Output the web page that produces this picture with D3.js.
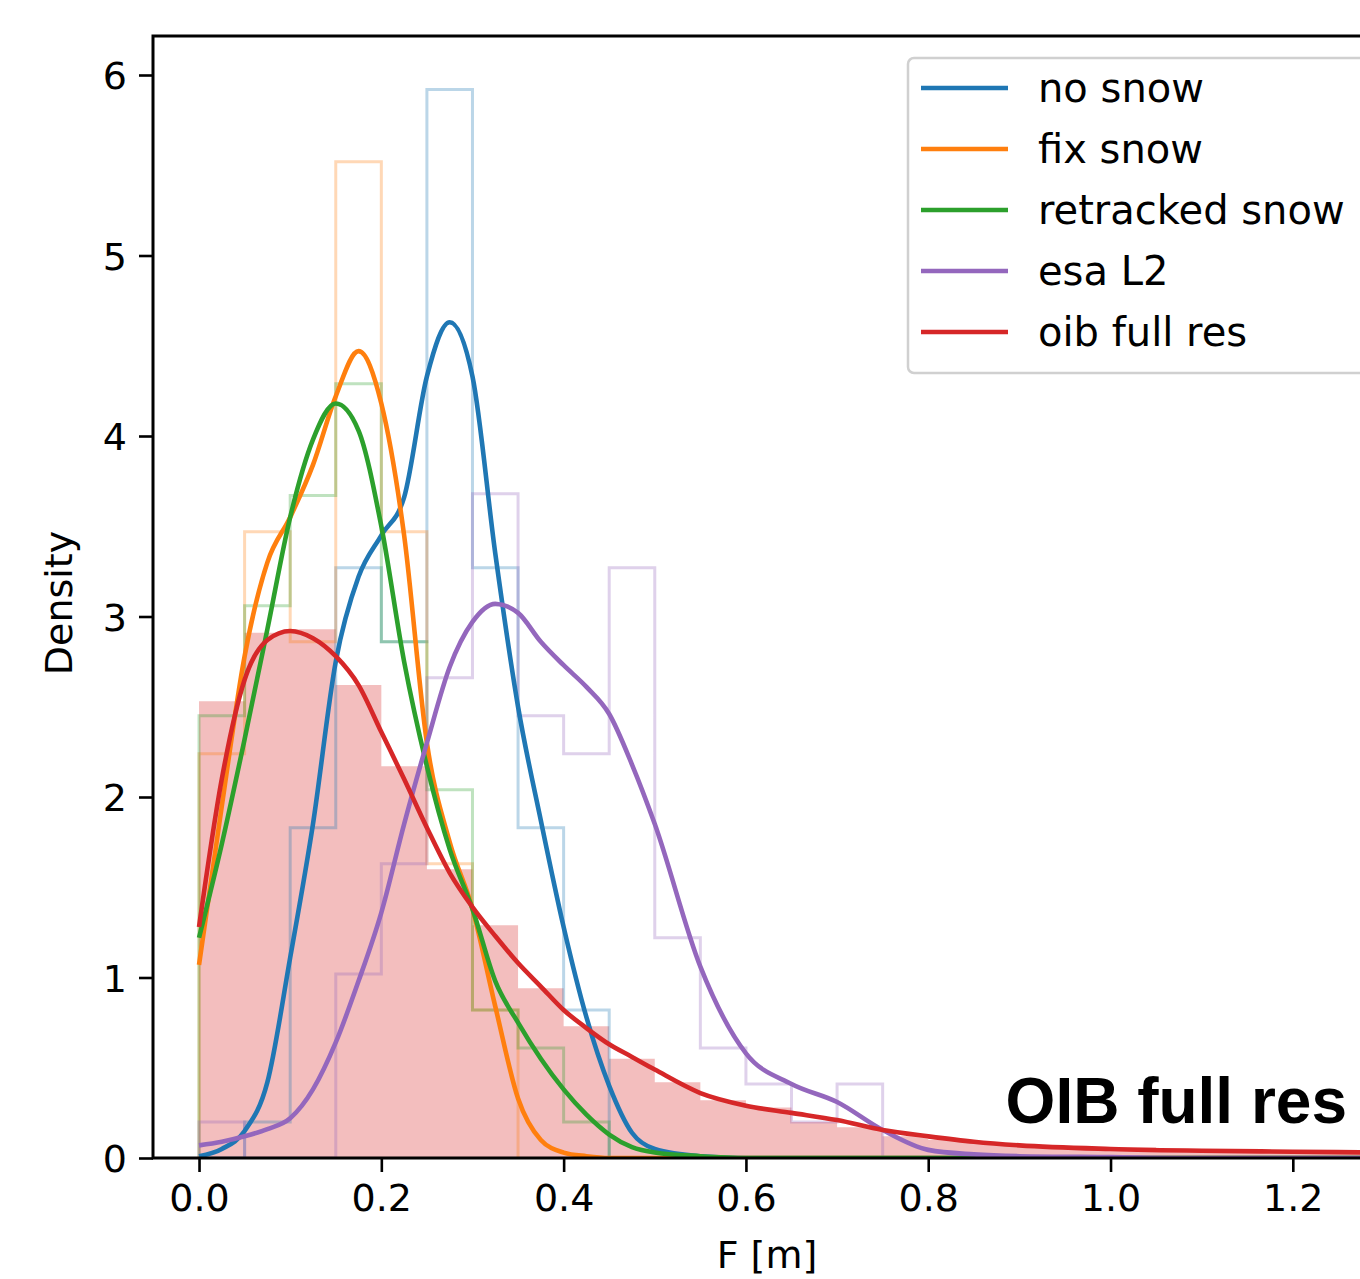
<!DOCTYPE html>
<html>
<head>
<meta charset="utf-8">
<script src="https://cdn.jsdelivr.net/npm/d3@7"></script>
<style>
  html, body { margin: 0; padding: 0; background: #fff; }
  svg { display: block; }
  text { font-family: "DejaVu Sans", sans-serif; }
</style>
</head>
<body>
<svg id="chart" width="1360" height="1279"></svg>
<script>
// Series names and colours (matplotlib tab10)
var seriesNames = ["no snow", "fix snow", "retracked snow", "esa L2", "oib full res"];
var seriesColors = ["#1f77b4", "#ff7f0e", "#2ca02c", "#9467bd", "#d62728"];

// Histogram bins start at 0, width 0.05 (density values)
var binWidth = 0.05;
var histNoSnow = [0, 0.2, 1.83, 3.27, 2.86, 5.92, 3.27, 1.83, 0.82];
var histFixSnow = [2.24, 3.47, 2.86, 5.52, 3.47, 1.63, 0.82];
var histRetracked = [2.45, 3.06, 3.67, 4.29, 2.86, 2.04, 0.82, 0.61, 0.2];
var histEsa = [0.2, 0, 0, 1.02, 1.63, 2.66, 3.68, 2.45, 2.24, 3.27, 1.22, 0.61, 0.41, 0.2, 0.41];
var histOib = [2.53, 2.91, 2.93, 2.62, 2.17, 1.6, 1.29, 0.94, 0.73, 0.55, 0.42, 0.32, 0.28, 0.2,
               0.17, 0.12, 0.1, 0.08, 0.07, 0.06, 0.06, 0.05, 0.05, 0.04, 0.04, 0.04];

// KDE curves, sampled on a shared grid
var kdeX = [0, 0.025, 0.05, 0.075, 0.1, 0.125, 0.15, 0.175, 0.2, 0.225, 0.25, 0.275, 0.3,
            0.325, 0.35, 0.375, 0.4, 0.425, 0.45, 0.475, 0.5, 0.55, 0.6, 0.65, 0.7, 0.75,
            0.8, 0.85, 0.9, 1.0, 1.1, 1.2, 1.3];
var kdeNoSnow = [0.01, 0.05, 0.15, 0.42, 1.11, 1.85, 2.75, 3.22, 3.45, 3.66, 4.33, 4.63, 4.33,
                 3.35, 2.5, 1.87, 1.28, 0.78, 0.4, 0.14, 0.05, 0.01, 0, 0, 0, 0,
                 0, 0, 0, 0, 0, 0, 0];
var kdeFixSnow = [1.07, 1.95, 2.78, 3.3, 3.55, 3.84, 4.22, 4.47, 4.18, 3.45, 2.3, 1.75, 1.38,
                  0.84, 0.33, 0.1, 0.03, 0.01, 0, 0, 0, 0, 0, 0, 0, 0,
                  0, 0, 0, 0, 0, 0, 0];
var kdeRetracked = [1.22, 1.74, 2.32, 2.93, 3.55, 3.98, 4.18, 4.03, 3.5, 2.75, 2.17, 1.71, 1.38,
                    0.98, 0.75, 0.55, 0.38, 0.24, 0.13, 0.06, 0.03, 0.01, 0, 0, 0, 0,
                    0, 0, 0, 0, 0, 0, 0];
var kdeEsa = [0.07, 0.09, 0.12, 0.16, 0.22, 0.38, 0.64, 0.98, 1.36, 1.85, 2.3, 2.72, 2.97,
              3.07, 3.02, 2.86, 2.73, 2.61, 2.46, 2.18, 1.85, 1.06, 0.58, 0.41, 0.31, 0.155,
              0.045, 0.02, 0.01, 0.005, 0, 0, 0];
var kdeOib = [1.28, 2.1, 2.65, 2.87, 2.92, 2.88, 2.78, 2.62, 2.36, 2.1, 1.83, 1.58, 1.39,
              1.23, 1.08, 0.95, 0.82, 0.72, 0.63, 0.56, 0.49, 0.36, 0.29, 0.25, 0.21, 0.155,
              0.12, 0.09, 0.07, 0.05, 0.04, 0.035, 0.03];

var xTicks = [0, 0.2, 0.4, 0.6, 0.8, 1.0, 1.2];
var yTicks = [0, 1, 2, 3, 4, 5, 6];

var hists = [histNoSnow, histFixSnow, histRetracked, histEsa];
var kdes = [kdeNoSnow, kdeFixSnow, kdeRetracked, kdeEsa, kdeOib];

// Plot area
var plot = {left: 153, top: 36, bottom: 1158, right: 1360};

var x = d3.scaleLinear().domain([-0.0505, 1.2737]).range([plot.left, plot.right]);
var y = d3.scaleLinear().domain([0, 6]).range([plot.bottom, 75]);

var svg = d3.select("#chart");

svg.append("defs").append("clipPath").attr("id", "clip")
  .append("rect")
    .attr("x", plot.left).attr("y", plot.top)
    .attr("width", plot.right - plot.left).attr("height", plot.bottom - plot.top);

var g = svg.append("g").attr("clip-path", "url(#clip)");

// Filled histogram for oib (drawn behind)
var oibPts = histOib.map(function(h, i) { return [i * binWidth, h]; });
oibPts.push([histOib.length * binWidth, histOib[histOib.length - 1]]);
g.append("path")
  .datum(oibPts)
  .attr("fill", seriesColors[4])
  .attr("fill-opacity", 0.3)
  .attr("d", d3.area()
    .x(function(d) { return x(d[0]); })
    .y0(y(0))
    .y1(function(d) { return y(d[1]); })
    .curve(d3.curveStepAfter));

// Step histograms
var stepLine = d3.line()
  .x(function(d) { return x(d[0]); })
  .y(function(d) { return y(d[1]); })
  .curve(d3.curveStepAfter);

hists.forEach(function(h, k) {
  var pts = [[0, 0]];
  h.forEach(function(v, i) { pts.push([i * binWidth, v]); });
  pts.push([h.length * binWidth, 0]);
  g.append("path")
    .datum(pts)
    .attr("fill", "none")
    .attr("stroke", seriesColors[k])
    .attr("stroke-opacity", 0.3)
    .attr("stroke-width", 3)
    .attr("d", stepLine);
});

// KDE lines
var kdeLine = d3.line()
  .x(function(d) { return x(d[0]); })
  .y(function(d) { return y(d[1]); })
  .curve(d3.curveMonotoneX);

kdes.forEach(function(vals, k) {
  g.append("path")
    .datum(kdeX.map(function(v, i) { return [v, vals[i]]; }))
    .attr("fill", "none")
    .attr("stroke", seriesColors[k])
    .attr("stroke-width", 4.6)
    .attr("stroke-linejoin", "round")
    .attr("d", kdeLine);
});

// Axes
var xAxis = svg.append("g")
  .attr("transform", "translate(0," + plot.bottom + ")")
  .call(d3.axisBottom(x).tickValues(xTicks).tickFormat(d3.format(".1f")).tickSizeInner(14).tickSizeOuter(0).tickPadding(12));
var yAxis = svg.append("g")
  .attr("transform", "translate(" + plot.left + ",0)")
  .call(d3.axisLeft(y).tickValues(yTicks).tickFormat(d3.format("d")).tickSizeInner(14).tickSizeOuter(0).tickPadding(12));

[xAxis, yAxis].forEach(function(ax) {
  ax.select(".domain").remove();
  ax.selectAll(".tick line").attr("stroke", "#000").attr("stroke-width", 2.6);
  ax.selectAll(".tick text")
    .attr("fill", "#000")
    .style("font-size", "38px")
    .style("font-family", "DejaVu Sans");
});
yAxis.selectAll(".tick text").attr("dy", "0.36em");

// Spines (left, top, bottom)
svg.append("path")
  .attr("d", "M" + plot.right + "," + plot.top + "H" + plot.left + "V" + plot.bottom + "H" + plot.right)
  .attr("fill", "none")
  .attr("stroke", "#000")
  .attr("stroke-width", 3);

// Axis labels
svg.append("text")
  .attr("x", 767)
  .attr("y", 1268)
  .attr("text-anchor", "middle")
  .style("font-size", "38px")
  .text("F [m]");

svg.append("text")
  .attr("transform", "translate(72,603) rotate(-90)")
  .attr("text-anchor", "middle")
  .style("font-size", "38px")
  .text("Density");

// Annotation
svg.append("text")
  .attr("x", 1347)
  .attr("y", 1123)
  .attr("text-anchor", "end")
  .style("font-family", "Liberation Sans, Arial, sans-serif")
  .style("font-weight", "bold")
  .style("font-size", "64px")
  .text("OIB full res");

// Legend
var legend = svg.append("g");
legend.append("rect")
  .attr("x", 908).attr("y", 58)
  .attr("width", 520).attr("height", 315)
  .attr("rx", 6)
  .attr("fill", "#fff").attr("fill-opacity", 0.8)
  .attr("stroke", "#d0d0d0").attr("stroke-width", 2.5);

seriesNames.forEach(function(name, i) {
  var ly = 88 + i * 61;
  legend.append("line")
    .attr("x1", 921).attr("x2", 1008)
    .attr("y1", ly).attr("y2", ly)
    .attr("stroke", seriesColors[i])
    .attr("stroke-width", 4.6);
  legend.append("text")
    .attr("x", 1038).attr("y", ly + 14)
    .style("font-size", "40px")
    .attr("fill", "#000")
    .text(name);
});
</script>
</body>
</html>
